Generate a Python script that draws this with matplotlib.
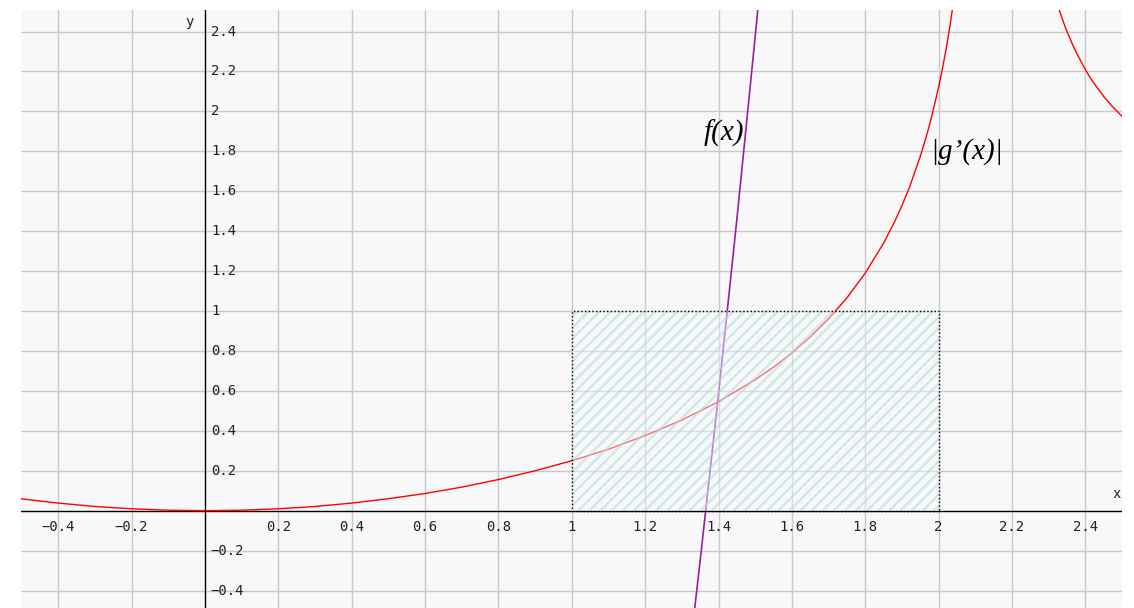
import matplotlib.pyplot as plt

# |g'(x)| values (left branch up to the top edge, right branch after the pole)
g_left_x = [-0.5, -0.4, -0.3, -0.2, -0.1, 0.0, 0.1, 0.2, 0.3, 0.4, 0.5, 0.6, 0.7, 0.8, 0.9,
            1.0, 1.1, 1.2, 1.3, 1.4, 1.5, 1.55, 1.6, 1.65, 1.7, 1.75, 1.8, 1.85, 1.88, 1.9,
            1.92, 1.95, 1.97, 1.98, 2.0, 2.01, 2.02, 2.03, 2.04, 2.05]
g_left_y = [0.059, 0.038, 0.021, 0.0095, 0.0024, 0.0, 0.0024, 0.0095, 0.021, 0.038, 0.060, 0.086,
            0.118, 0.156, 0.200, 0.250, 0.308, 0.376, 0.454, 0.546, 0.656, 0.719, 0.790, 0.870,
            0.961, 1.066, 1.190, 1.340, 1.447, 1.528, 1.617, 1.774, 1.897, 1.966, 2.121, 2.210,
            2.308, 2.417, 2.540, 2.678]
g_right_x = [2.30, 2.31, 2.32, 2.33, 2.34, 2.35, 2.37, 2.40, 2.42, 2.45, 2.47, 2.50]
g_right_y = [2.695, 2.624, 2.560, 2.502, 2.449, 2.400, 2.315, 2.209, 2.150, 2.075, 2.032, 1.976]

# f(x), the steep purple curve
f_x = [1.33, 1.35, 1.40, 1.45, 1.50, 1.52]
f_y = [-0.572, -0.250, 0.584, 1.459, 2.375, 2.753]

# hatched box
box_x = [1, 2]
box_y = [0, 1]

x_ticks = [-0.4, -0.2, 0.2, 0.4, 0.6, 0.8, 1, 1.2, 1.4, 1.6, 1.8, 2, 2.2, 2.4]
y_ticks = [-0.4, -0.2, 0.2, 0.4, 0.6, 0.8, 1, 1.2, 1.4, 1.6, 1.8, 2, 2.2, 2.4]

fig = plt.figure(figsize=(11.34, 6.08), dpi=100)
ax = fig.add_axes([21 / 1134, 0, 1101 / 1134, 598 / 608])
ax.set_facecolor('#f8f8f8')
ax.set_xlim(-0.5016, 2.5)
ax.set_ylim(-0.4875, 2.508)
for s in ax.spines.values():
    s.set_visible(False)
ax.set_xticks([])
ax.set_yticks([])

# grid
for v in x_ticks:
    ax.axvline(v, color='#c8c8c8', lw=1, zorder=0)
for v in y_ticks:
    ax.axhline(v, color='#c8c8c8', lw=1, zorder=0)

# axes through the origin
ax.axhline(0, color='black', lw=1, zorder=1)
ax.axvline(0, color='black', lw=1, zorder=1)

# curves
ax.plot(g_left_x, g_left_y, color='#ff0000', lw=1, zorder=2)
ax.plot(g_right_x, g_right_y, color='#ff0000', lw=1, zorder=2)
ax.plot(f_x, f_y, color='#9a1ea0', lw=1.2, zorder=2)

# hatched rectangle on top, semi-transparent
plt.rcParams['hatch.linewidth'] = 1.8
ax.fill_between(box_x, box_y[0], box_y[1], facecolor=(0.973, 0.973, 0.973, 0.45),
                edgecolor=(0.66, 0.85, 0.88, 0.5), hatch='///', lw=0, zorder=3)
ax.plot([box_x[0], box_x[1], box_x[1], box_x[0], box_x[0]],
        [box_y[0], box_y[0], box_y[1], box_y[1], box_y[0]],
        color='black', ls=':', lw=1, zorder=4)

# tick labels
lab_color = '#202030'
def fmt(v):
    return ('%g' % v).replace('-', '\u2212')

for v in x_ticks:
    ax.text(v, -0.08, fmt(v), ha='center', va='center', fontsize=10,
            family='DejaVu Sans Mono', color=lab_color, zorder=5)
for v in y_ticks:
    ax.text(0.016, v, fmt(v), ha='left', va='center', fontsize=10,
            family='DejaVu Sans Mono', color=lab_color, zorder=5)

ax.text(-0.041, 2.448, 'y', ha='center', va='center', fontsize=10,
        family='DejaVu Sans Mono', color=lab_color)
ax.text(2.486, 0.084, 'x', ha='center', va='center', fontsize=10,
        family='DejaVu Sans Mono', color=lab_color)

# function labels
ax.text(1.416, 1.89, 'f(x)', ha='center', va='center', fontsize=21,
        family='Liberation Serif', style='italic', color='black', zorder=5)
ax.text(2.077, 1.80, '|g\u2019(x)|', ha='center', va='center', fontsize=21,
        family='Liberation Serif', style='italic', color='black', zorder=5)

fig.savefig('out.png', dpi=100, facecolor='white')
